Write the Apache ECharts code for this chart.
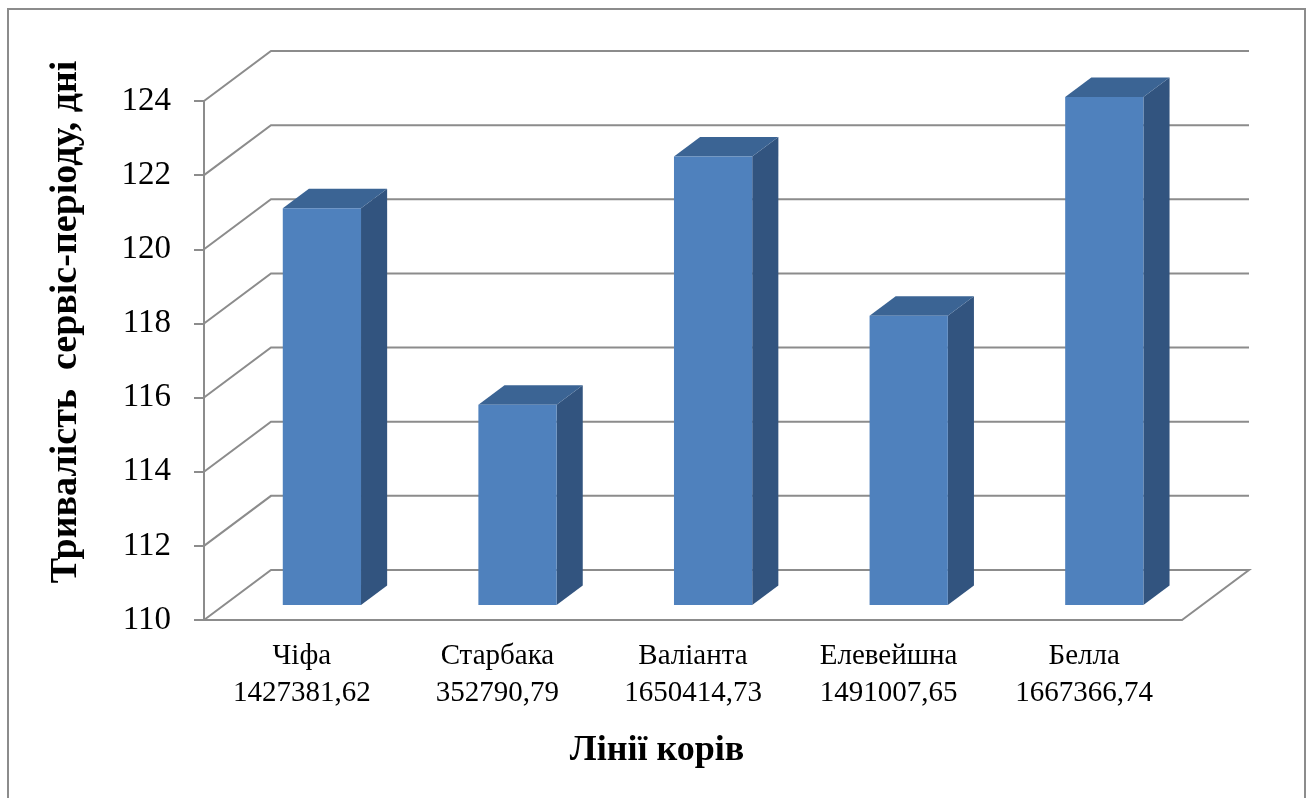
<!DOCTYPE html>
<html>
<head>
<meta charset="utf-8">
<script src="https://cdn.jsdelivr.net/npm/echarts@6/dist/echarts.min.js"></script>
<style>
  html, body { margin: 0; padding: 0; background: #fff; }
  #main { width: 1307px; height: 798px; }
</style>
</head>
<body>
<div id="main"></div>
<script>
const categories = ['Чіфа', 'Старбака', 'Валіанта', 'Елевейшна', 'Белла'];
const sums = ['1427381,62', '352790,79', '1650414,73', '1491007,65', '1667366,74'];
const serviceDays = [120.7, 115.4, 122.1, 117.8, 123.7];
const yTicks = [110, 112, 114, 116, 118, 120, 122, 124];

const chart = echarts.init(document.getElementById('main'), null, { renderer: 'canvas' });

// 3d look: depth of the whole plot and of the bars, in px
const DEPTH = [67, -50];
const BAR_FRONT = 0.3;
const BAR_BACK = 0.69;
const gridColor = '#8c8c8c';
const serif = '"Liberation Serif", "Times New Roman", serif';

function renderWall(params, api) {
  const cs = params.coordSys;
  const v = api.value(1);
  const y = api.coord([0, v])[1];
  const x0 = cs.x, x1 = cs.x + cs.width;
  const pts = [[x0, y], [x0 + DEPTH[0], y + DEPTH[1]], [x1 + DEPTH[0], y + DEPTH[1]]];
  if (v === yTicks[0]) pts.push([x1, y]);
  return {
    type: 'polyline',
    shape: { points: pts },
    style: { stroke: gridColor, lineWidth: 2, fill: null },
    z2: 1
  };
}

function renderBar(params, api) {
  const i = api.value(0);
  const top = api.coord([i, api.value(1)]);
  const base = api.coord([i, yTicks[0]]);
  const w = api.size([1, 0])[0] * 0.4;
  const fx = DEPTH[0] * BAR_FRONT, fy = DEPTH[1] * BAR_FRONT;
  const bx = DEPTH[0] * BAR_BACK, by = DEPTH[1] * BAR_BACK;
  const l = top[0] - w / 2 + fx, r = top[0] + w / 2 + fx;
  const t = top[1] + fy, b = base[1] + fy;
  const dx = bx - fx, dy = by - fy;
  return {
    type: 'group',
    children: [
      {
        type: 'polygon',
        shape: { points: [[r, t], [r + dx, t + dy], [r + dx, b + dy], [r, b]] },
        style: { fill: '#32547f' }
      },
      {
        type: 'polygon',
        shape: { points: [[l, t], [l + dx, t + dy], [r + dx, t + dy], [r, t]] },
        style: { fill: '#3b6494' }
      },
      {
        type: 'rect',
        shape: { x: l, y: t, width: r - l, height: b - t },
        style: { fill: '#4f81bd' }
      }
    ]
  };
}

const option = {
  backgroundColor: '#fff',
  animation: false,
  grid: { left: 204, right: 125, top: 101, bottom: 178 },
  xAxis: {
    type: 'category',
    data: categories,
    axisLine: { show: true, lineStyle: { color: gridColor, width: 2 } },
    axisTick: { show: false },
    axisLabel: {
      margin: 18,
      fontFamily: serif,
      fontSize: 29,
      lineHeight: 37,
      color: '#000',
      formatter: function (val, idx) {
        return val + '\n' + sums[idx];
      }
    },
    splitLine: { show: false }
  },
  yAxis: {
    type: 'value',
    min: 110,
    max: 124,
    interval: 2,
    axisLine: { show: true, lineStyle: { color: gridColor, width: 2 } },
    axisTick: { show: true, inside: false, length: 10, lineStyle: { color: gridColor, width: 2 } },
    axisLabel: { margin: 33, fontFamily: serif, fontSize: 33, color: '#000' },
    splitLine: { show: false }
  },
  graphic: [
    {
      type: 'rect',
      shape: { x: 8, y: 9, width: 1297, height: 800 },
      style: { fill: null, stroke: '#8c8c8c', lineWidth: 2 }
    },
    {
      type: 'text',
      x: 66, y: 322,
      rotation: Math.PI / 2,
      style: {
        text: 'Тривалість  сервіс-періоду, дні',
        font: 'bold 38px ' + serif,
        fill: '#000',
        align: 'center',
        verticalAlign: 'middle'
      }
    },
    {
      type: 'text',
      x: 657, y: 751,
      style: {
        text: 'Лінії корів',
        font: 'bold 36px ' + serif,
        fill: '#000',
        align: 'center',
        verticalAlign: 'middle'
      }
    }
  ],
  series: [
    {
      type: 'custom',
      name: 'walls',
      data: yTicks.map(function (v) { return [0, v]; }),
      encode: { x: 0, y: 1 },
      renderItem: renderWall,
      silent: true,
      z: 1
    },
    {
      type: 'custom',
      name: 'Тривалість сервіс-періоду',
      data: serviceDays.map(function (v, i) { return [i, v]; }),
      encode: { x: 0, y: 1 },
      renderItem: renderBar,
      z: 3
    }
  ]
};

chart.setOption(option);
</script>
</body>
</html>
